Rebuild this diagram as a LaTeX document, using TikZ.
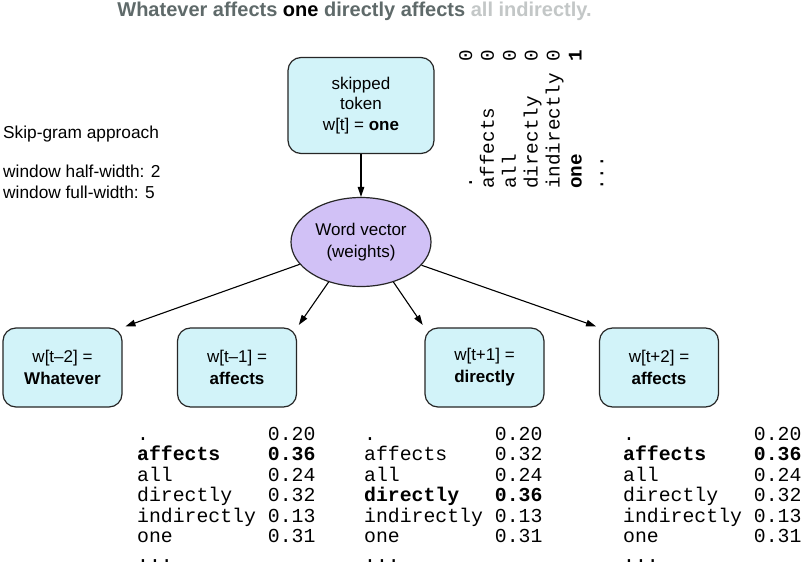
\documentclass[tikz,border=0pt]{standalone}
\usepackage{fontspec}
\setmainfont{Liberation Sans}
\setmonofont{Liberation Mono}
\usetikzlibrary{arrows.meta,shapes.geometric}
\definecolor{boxfill}{HTML}{D2F3F9}
\definecolor{ellfill}{HTML}{D1C1F6}
\definecolor{titlegray}{HTML}{5F6A6A}
\definecolor{titlelight}{HTML}{C3C7C7}
\newcommand{\vrow}[2]{\makebox[127.4pt][l]{#1}#2}
\newcommand{\hrow}[2]{\makebox[130.7pt][l]{#1}#2}
\tikzset{
  tokbox/.style={draw=black!85, line width=1.2pt, fill=boxfill, rounded corners=13pt,
    align=center, inner sep=0pt, font=\fontsize{17}{22}\selectfont},
  wvec/.style={draw=black!85, line width=1.2pt, fill=ellfill, ellipse, inner sep=0pt,
    minimum width=140pt, minimum height=89pt, align=center, font=\fontsize{17}{22}\selectfont},
  conn/.style={line width=1.1pt, -{Triangle[length=10pt,width=6.5pt]}},
  lbl/.style={inner sep=0pt, anchor=base west, font=\fontsize{17.3}{20}\selectfont},
  vtxt/.style={inner sep=0pt, anchor=base west, rotate=90, font=\fontsize{19.3}{20}\ttfamily},
  htab/.style={inner sep=0pt, anchor=base west, font=\fontsize{19.8}{20.5}\ttfamily},
}
\begin{document}
\begin{tikzpicture}[x=1pt,y=-1pt]
\useasboundingbox[fill=white] (0,0) rectangle (802,564);
% title
\node[inner sep=0pt, anchor=base, font=\fontsize{20}{22}\selectfont\bfseries] (title) at (354.5,17)
  {\textcolor{titlegray}{Whatever affects} \textcolor{black}{one} \textcolor{titlegray}{directly affects} \textcolor{titlelight}{all indirectly.}};
% left labels
\node[lbl] (sg) at (3,139) {Skip-gram approach};
\node[lbl] (hw) at (3,178) {window half-width: 2};
\node[lbl] (fw) at (3,198) {window full-width: 5};
% boxes
\node[tokbox, minimum width=146pt, minimum height=96pt, font=\fontsize{17}{20.4}\selectfont] (top) at (361,105.5)
  {skipped\\token\\w[t] = \textbf{one}};
\node[wvec] (ell) at (361,242) {Word vector\\(weights)};
\node[tokbox, minimum width=119pt, minimum height=79pt] (b1) at (62.5,367.5) {w[t\textendash2] =\\\textbf{Whatever}};
\node[tokbox, minimum width=119pt, minimum height=79pt] (b2) at (237,367.5) {w[t\textendash1] =\\\textbf{affects}};
\node[tokbox, minimum width=119pt, minimum height=79pt] (b3) at (484.5,367.5) {w[t+1] =\\\textbf{directly}};
\node[tokbox, minimum width=119pt, minimum height=79pt] (b4) at (659,367.5) {w[t+2] =\\\textbf{affects}};
% connectors
\draw[conn] (top) -- (ell);
\draw[conn, shorten >=3pt] (ell.200) -- (b1.north east);
\draw[conn, shorten >=3pt] (ell.231) -- (b2.north east);
\draw[conn, shorten >=3pt] (ell.309) -- (b3.north west);
\draw[conn, shorten >=3pt] (ell.339) -- (b4.north west);
% one-hot vertical table
\node[vtxt] (v1) at (472.0,189) {\vrow{.}{0}};
\node[vtxt] (v2) at (493.9,189) {\vrow{affects}{0}};
\node[vtxt] (v3) at (515.8,189) {\vrow{all}{0}};
\node[vtxt] (v4) at (537.7,189) {\vrow{directly}{0}};
\node[vtxt] (v5) at (559.6,189) {\vrow{indirectly}{0}};
\node[vtxt] (v6) at (581.5,189) {\textbf{\vrow{one}{1}}};
\node[vtxt] (v7) at (603.4,191) {...};
% output tables
\foreach \tx/\tn/\bw in {137/a/2, 364/b/4, 623/c/2}{
  \node[htab] (\tn1) at (\tx,440.0) {\hrow{.}{0.20}};
  \ifnum\bw=2
    \node[htab] (\tn2) at (\tx,460.5) {\textbf{\hrow{affects}{0.36}}};
    \node[htab] (\tn4) at (\tx,501.5) {\hrow{directly}{0.32}};
  \else
    \node[htab] (\tn2) at (\tx,460.5) {\hrow{affects}{0.32}};
    \node[htab] (\tn4) at (\tx,501.5) {\textbf{\hrow{directly}{0.36}}};
  \fi
  \node[htab] (\tn3) at (\tx,481.0) {\hrow{all}{0.24}};
  \node[htab] (\tn5) at (\tx,522.0) {\hrow{indirectly}{0.13}};
  \node[htab] (\tn6) at (\tx,542.5) {\hrow{one}{0.31}};
  \node[htab] (\tn7) at (\tx,562.0) {...};
}
\end{tikzpicture}
\end{document}
